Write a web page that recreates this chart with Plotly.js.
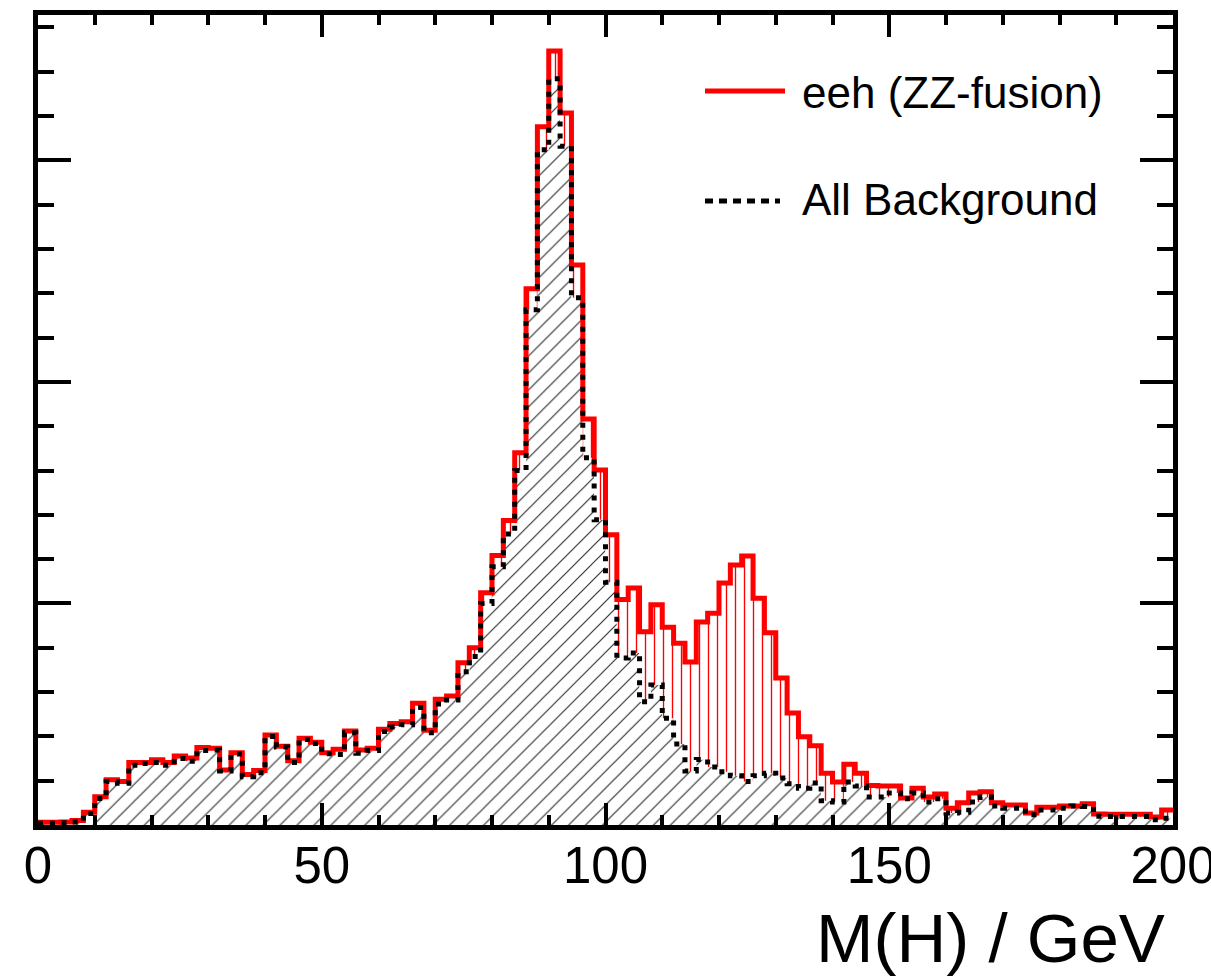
<!DOCTYPE html>
<html>
<head>
<meta charset="utf-8">
<script src="https://cdn.plot.ly/plotly-3.0.1.min.js"></script>
<style>
  html, body { margin: 0; padding: 0; background: #ffffff; }
  #chart { width: 1211px; height: 980px; }
</style>
</head>
<body>
<div id="chart"></div>
<script>
// Histogram binning: M(H) from 0 to 200 GeV, 2 GeV bins
const massLow = 0;
const massHigh = 200;
const nBins = 100;

// Total (signal eeh ZZ-fusion + background) per bin, arbitrary units
const totalCounts = [
  6, 6, 7, 10, 29, 64, 102, 98, 141, 141,
  147, 141, 156, 151, 175, 173, 124, 163, 114, 123,
  203, 178, 145, 196, 187, 163, 171, 212, 169, 173,
  216, 229, 233, 275, 214, 284, 291, 366, 400, 524,
  608, 687, 840, 1210, 1576, 1747, 1607, 1264, 916, 801,
  655, 509, 535, 436, 497, 446, 410, 368, 458, 478,
  546, 587, 607, 512, 434, 332, 253, 199, 179, 117,
  97, 137, 117, 89, 88, 88, 61, 83, 63, 70,
  38, 50, 72, 75, 50, 45, 45, 27, 40, 40,
  43, 43, 48, 25, 24, 24, 24, 24, 18, 34
];

// All background per bin, arbitrary units
const backgroundCounts = [
  4, 4, 5, 7, 26, 60, 98, 94, 135, 139,
  141, 135, 150, 144, 168, 169, 122, 160, 109, 118,
  200, 176, 141, 193, 184, 161, 159, 208, 162, 168,
  211, 221, 226, 265, 208, 273, 282, 346, 380, 500,
  583, 657, 800, 1163, 1524, 1684, 1532, 1190, 829, 689,
  548, 377, 388, 278, 316, 241, 183, 122, 148, 131,
  120, 111, 98, 111, 117, 106, 93, 83, 95, 55,
  52, 97, 88, 63, 63, 72, 59, 72, 52, 59,
  27, 29, 52, 63, 43, 38, 38, 23, 34, 34,
  38, 43, 42, 20, 19, 19, 19, 19, 12, 15
];

const xTickVals = [0, 50, 100, 150, 200];
const xTickText = ["0", "50", "100", "150", "200"];
const legendLabels = ["eeh (ZZ-fusion)", "All Background"];
const xTitle = "M(H) / GeV";

// Step-curve points from bin edges
const binWidth = (massHigh - massLow) / nBins;
function stepX(n) {
  const xs = [];
  for (let i = 0; i <= n; i++) xs.push(massLow + i * binWidth);
  return xs;
}
function stepY(vals) {
  return vals.concat([vals[vals.length - 1]]);
}
const xs = stepX(nBins);

const FONT = '"Liberation Sans", Arial, Helvetica, sans-serif';

const traces = [
  {
    type: 'scatter', mode: 'lines', x: xs, y: stepY(backgroundCounts),
    line: {shape: 'hv', width: 0, color: 'rgba(0,0,0,0)'},
    fill: 'tozeroy', fillcolor: 'rgba(0,0,0,0)',
    fillpattern: {shape: '/', fgcolor: '#333333', bgcolor: '#ffffff', size: 12, solidity: 0.1},
    showlegend: false, hoverinfo: 'skip'
  },
  {
    type: 'scatter', mode: 'lines', x: xs, y: stepY(totalCounts),
    line: {shape: 'hv', width: 5, color: '#ff0000'},
    fill: 'tonexty', fillcolor: 'rgba(0,0,0,0)',
    fillpattern: {shape: '|', fgcolor: '#ff0000', bgcolor: '#ffffff', size: 9, solidity: 0.15},
    showlegend: false, name: legendLabels[0]
  },
  {
    type: 'scatter', mode: 'lines', x: xs, y: stepY(backgroundCounts),
    line: {shape: 'hv', width: 5, color: '#000000', dash: '5px,7px'},
    showlegend: false, name: legendLabels[1]
  }
];

const L = 38, R = 38, T = 15, B = 155;
const W = 1211, H = 980;
const pw = W - L - R, ph = H - T - B;
function px2paperX(px) { return (px - L) / pw; }
function px2paperY(py) { return 1 - (py - T) / ph; }

const layout = {
  width: W, height: H,
  margin: {l: L, r: R, t: T, b: B, pad: 0},
  paper_bgcolor: '#ffffff', plot_bgcolor: '#ffffff',
  showlegend: false,
  font: {family: FONT, color: '#000000'},
  xaxis: {
    range: [massLow, massHigh],
    tickvals: xTickVals, ticktext: xTickText,
    ticks: 'inside', ticklen: 22, tickwidth: 4, tickcolor: '#000000',
    minor: {dtick: 10, tick0: 0, ticks: 'inside', ticklen: 10, tickwidth: 4, tickcolor: '#000000', showgrid: false},
    showline: true, linewidth: 5, linecolor: '#000000', mirror: 'allticks',
    showgrid: false, zeroline: false,
    tickfont: {family: FONT, size: 51, color: '#000000'},
    ticklabeloverflow: 'allow',
    ticklabelstandoff: -8
  },
  yaxis: {
    range: [0, 1828],
    dtick: 500, tick0: 0,
    ticks: 'inside', ticklen: 33, tickwidth: 4, tickcolor: '#000000',
    minor: {dtick: 100, tick0: 0, ticks: 'inside', ticklen: 16, tickwidth: 4, tickcolor: '#000000', showgrid: false},
    showline: true, linewidth: 5, linecolor: '#000000', mirror: 'allticks',
    showgrid: false, zeroline: false, showticklabels: false
  },
  shapes: [
    {type: 'line', xref: 'paper', yref: 'paper',
     x0: px2paperX(705), x1: px2paperX(785), y0: px2paperY(91), y1: px2paperY(91),
     line: {color: '#ff0000', width: 5}},
    {type: 'line', xref: 'paper', yref: 'paper',
     x0: px2paperX(705), x1: px2paperX(780), y0: px2paperY(201), y1: px2paperY(201),
     line: {color: '#000000', width: 5, dash: '8px,6px'}}
  ],
  annotations: [
    {xref: 'paper', yref: 'paper', x: px2paperX(800), y: px2paperY(92),
     xanchor: 'left', yanchor: 'middle', showarrow: false,
     text: legendLabels[0], font: {family: FONT, size: 44, color: '#000000'}},
    {xref: 'paper', yref: 'paper', x: px2paperX(800), y: px2paperY(199),
     xanchor: 'left', yanchor: 'middle', showarrow: false,
     text: legendLabels[1], font: {family: FONT, size: 44, color: '#000000'}},
    {xref: 'paper', yref: 'paper', x: px2paperX(1167), y: px2paperY(938),
     xanchor: 'right', yanchor: 'middle', showarrow: false,
     text: xTitle, font: {family: FONT, size: 69, color: '#000000'}}
  ]
};

Plotly.newPlot('chart', traces, layout, {displayModeBar: false, staticPlot: true});
</script>
</body>
</html>
